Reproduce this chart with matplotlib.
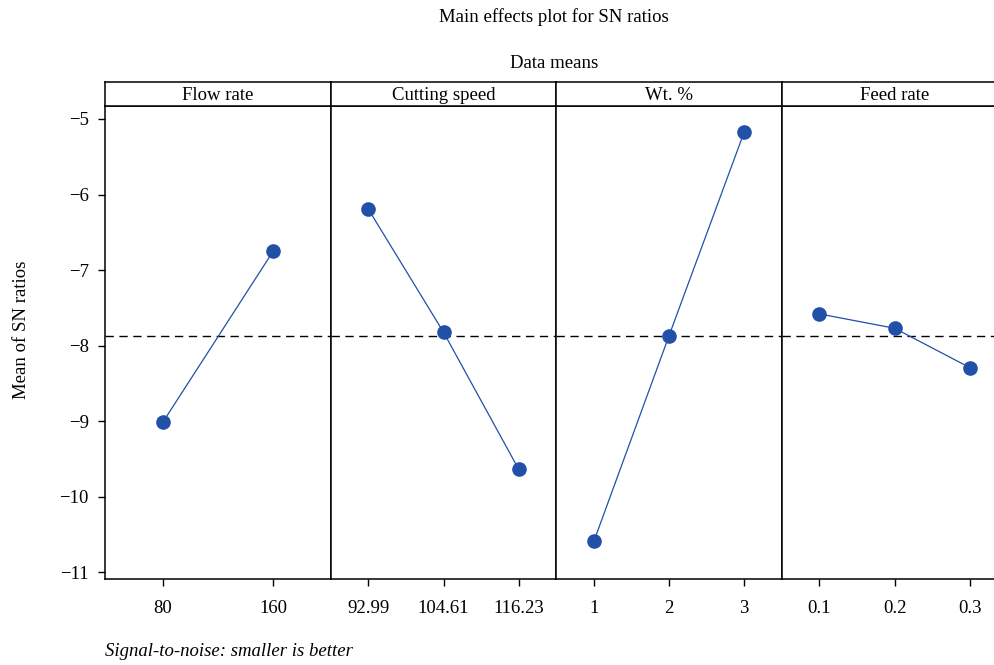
import numpy as np
import matplotlib
matplotlib.use('Agg')
import matplotlib.pyplot as plt

plt.rcParams['font.family'] = ['Liberation Serif', 'DejaVu Serif']
plt.rcParams['font.size'] = 13.5

# factor names and levels
factors = ['Flow rate', 'Cutting speed', 'Wt. %', 'Feed rate']
flow_levels = ['80', '160']
speed_levels = ['92.99', '104.61', '116.23']
wt_levels = ['1', '2', '3']
feed_levels = ['0.1', '0.2', '0.3']

# mean of SN ratios for each level
flow_sn = [-9.015, -6.747]
speed_sn = [-6.195, -7.823, -9.637]
wt_sn = [-10.59, -7.868, -5.172]
feed_sn = [-7.58, -7.77, -8.29]

levels = [flow_levels, speed_levels, wt_levels, feed_levels]
values = [flow_sn, speed_sn, wt_sn, feed_sn]
grand_mean = np.mean(wt_sn)

W, H = 995, 665
fig = plt.figure(figsize=(W/100, H/100), dpi=100)

left0 = 105.3
pw = 225.5
ax_top = 106
ax_bot = 579.3
strip_top = 82

line_col = '#2150a8'

for i in range(4):
    l = (left0 + i*pw)/W
    b = 1 - ax_bot/H
    h = (ax_bot - ax_top)/H
    ax = fig.add_axes([l, b, pw/W, h])
    n = len(levels[i])
    x = np.arange(1, n+1)
    ax.plot(x, values[i], color=line_col, lw=0.9, marker='o', ms=9.5,
            mfc=line_col, mec=line_col, zorder=3)
    ax.axhline(grand_mean, color='black', lw=1.0, ls=(0, (6, 4)), zorder=2)
    if n == 2:
        ax.set_xlim(0.48, 2.52)
    else:
        ax.set_xlim(0.5, 3.5)
    ax.set_ylim(-11.093, -4.828)
    ax.set_xticks(x)
    ax.set_xticklabels(levels[i])
    ax.tick_params(axis='x', direction='out', length=5, width=1, pad=10)
    if i == 0:
        ax.set_yticks([-5, -6, -7, -8, -9, -10, -11])
        ax.set_yticklabels(['\u22125', '\u22126', '\u22127', '\u22128', '\u22129', '\u221210', '\u221211'])
        ax.tick_params(axis='y', direction='out', length=5, width=1, pad=7)
        ax.set_ylabel('Mean of SN ratios')
        ax.yaxis.set_label_coords(-0.335, 0.527)
    else:
        ax.set_yticks([])
    for s in ax.spines.values():
        s.set_linewidth(1.1)

    # header strip
    sax = fig.add_axes([l, 1 - ax_top/H, pw/W, (ax_top - strip_top)/H])
    sax.set_xticks([])
    sax.set_yticks([])
    for s in sax.spines.values():
        s.set_linewidth(1.1)
    sax.text(0.5, 0.45, factors[i], ha='center', va='center',
             transform=sax.transAxes)

fig.text(0.557, 1 - 17/H, 'Main effects plot for SN ratios', ha='center', va='center')
fig.text(0.557, 1 - 63/H, 'Data means', ha='center', va='center')
fig.text(left0/W, 1 - 651/H, 'Signal-to-noise: smaller is better',
         ha='left', va='center', style='italic')

fig.savefig('out.png', dpi=100)
